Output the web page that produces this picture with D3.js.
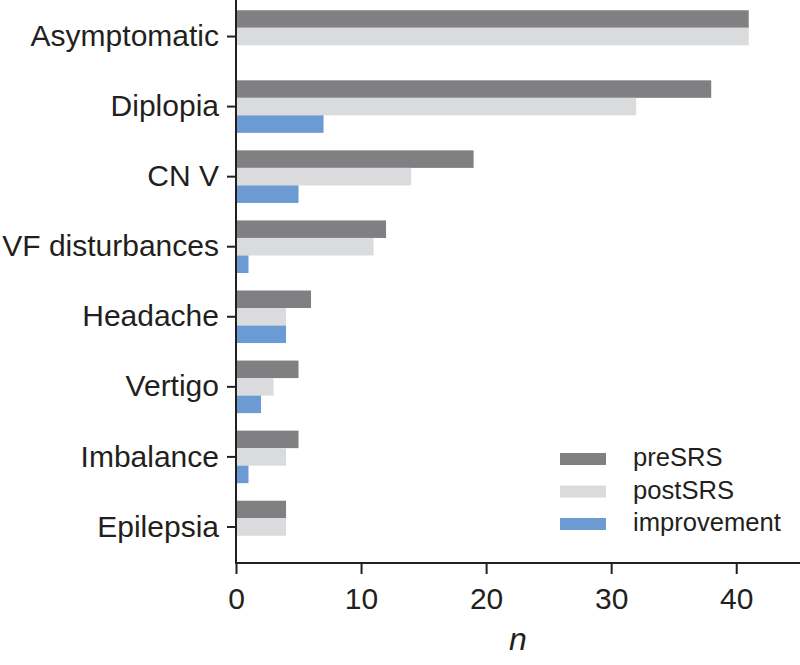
<!DOCTYPE html>
<html><head><meta charset="utf-8">
<script src="https://cdn.jsdelivr.net/npm/d3@7"></script>
<style>body{margin:0;background:#fff}svg{display:block}</style>
</head><body>
<svg id="c" width="800" height="665"></svg>
<script>
const categories = ["Asymptomatic","Diplopia","CN V","VF disturbances","Headache","Vertigo","Imbalance","Epilepsia"];
const seriesNames = ["preSRS","postSRS","improvement"];
const preSRS = [41,38,19,12,6,5,5,4];
const postSRS = [41,32,14,11,4,3,4,4];
const improvement = [0,7,5,1,4,2,1,0];
const xTicks = [0,10,20,30,40];
const colors = ["#808083","#dadbdc","#6b9bd2"];

(function(){
const svg = d3.select("#c");
const font = "'Liberation Sans', Arial, sans-serif";
const textColor = "#231f20";
const mLeft = 236, mRight = 800, mTop = 1.5, mBottom = 562, axisY = 563;

const x = d3.scaleLinear().domain([0,45.1]).range([mLeft,mRight]);
const y = d3.scaleBand().domain(categories).range([mTop,mBottom]).paddingInner(0.25).paddingOuter(0.125);
const ys = d3.scaleBand().domain(seriesNames).range([0,y.bandwidth()]);
const series = [preSRS, postSRS, improvement];

const data = [];
categories.forEach((c,i)=>series.forEach((s,j)=>data.push({c, s:seriesNames[j], v:s[i], j})));

svg.append("g").selectAll("rect").data(data.filter(d=>d.v>0)).join("rect")
  .attr("x", x(0))
  .attr("y", d=>y(d.c)+ys(d.s))
  .attr("width", d=>x(d.v)-x(0))
  .attr("height", ys.bandwidth())
  .attr("fill", d=>colors[d.j]);

// y axis
const ya = svg.append("g").attr("transform",`translate(${mLeft},0)`)
  .call(d3.axisLeft(y).tickSize(9).tickPadding(8));
ya.select(".domain").remove();
svg.append("line").attr("x1",mLeft).attr("x2",mLeft).attr("y1",0).attr("y2",axisY)
  .attr("stroke",textColor).attr("stroke-width",2);
ya.selectAll(".tick line").attr("stroke",textColor).attr("stroke-width",2);
ya.selectAll(".tick text").attr("font-family",font).attr("font-size",30).attr("fill",textColor);

// x axis
const xa = svg.append("g").attr("transform",`translate(0,${axisY})`)
  .call(d3.axisBottom(x).tickValues(xTicks).tickSize(11).tickPadding(14));
xa.select(".domain").remove();
svg.append("line").attr("x1",mLeft-1).attr("x2",mRight).attr("y1",axisY).attr("y2",axisY)
  .attr("stroke",textColor).attr("stroke-width",2);
xa.selectAll(".tick line").attr("stroke",textColor).attr("stroke-width",2);
xa.selectAll(".tick text").attr("font-family",font).attr("font-size",30).attr("fill",textColor);

svg.append("text").attr("x",(mLeft+mRight)/2).attr("y",650).attr("text-anchor","middle")
  .attr("font-family",font).attr("font-size",32).attr("font-style","italic").attr("fill",textColor).text("n");

// legend
const lg = svg.append("g").attr("transform","translate(560,453)");
seriesNames.forEach((n,i)=>{
  const g = lg.append("g").attr("transform",`translate(0,${i*32.5})`);
  g.append("rect").attr("width",46).attr("height",12).attr("fill",colors[i]);
  g.append("text").attr("x",73).attr("y",13)
    .attr("font-family",font).attr("font-size",25.6).attr("fill",textColor).text(n);
});
})();
</script>
</body></html>
